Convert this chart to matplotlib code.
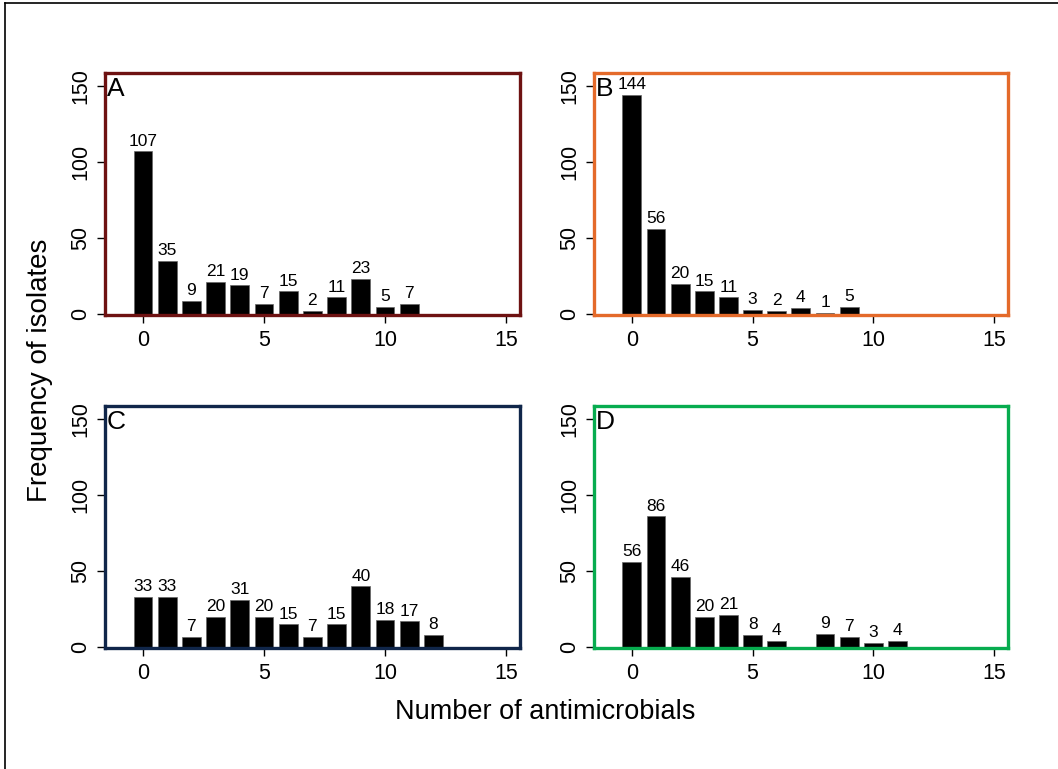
import matplotlib
matplotlib.use("Agg")
import matplotlib.pyplot as plt
from matplotlib.lines import Line2D

plt.rcParams['font.family'] = ['Liberation Sans', 'DejaVu Sans']

# Frequency of isolates by number of antimicrobials resisted, per group
counts_a = [107, 35, 9, 21, 19, 7, 15, 2, 11, 23, 5, 7]
counts_b = [144, 56, 20, 15, 11, 3, 2, 4, 1, 5]
counts_c = [33, 33, 7, 20, 31, 20, 15, 7, 15, 40, 18, 17, 8]
counts_d = [56, 86, 46, 20, 21, 8, 4, 0, 9, 7, 3, 4]

panel_letters = ["A", "B", "C", "D"]
frame_colors = ["#6e1212", "#e46a2a", "#10264a", "#07ac4f"]
x_ticks = [0, 5, 10, 15]
y_ticks = [0, 50, 100, 150]

W, H = 1058, 769
fig = plt.figure(figsize=(W / 100, H / 100), dpi=100)

# axes rectangles in pixels: (left, top, right, bottom)
boxes = [(105, 73, 520, 315), (594, 73, 1008, 315),
         (105, 406, 520, 648), (594, 406, 1008, 648)]

all_counts = [counts_a, counts_b, counts_c, counts_d]

for counts, letter, color, (l, t, r, b) in zip(all_counts, panel_letters, frame_colors, boxes):
    ax = fig.add_axes([l / W, 1 - b / H, (r - l) / W, (b - t) / H])
    xs = list(range(len(counts)))
    ax.bar(xs, counts, width=0.78, color="black", edgecolor="#666666", linewidth=0.5)
    for x, v in zip(xs, counts):
        if v > 0:
            ax.annotate(str(v), (x, v), xytext=(0, 2), textcoords="offset points",
                        ha="center", va="bottom", fontsize=12.5)
    ax.set_xlim(-1.57, 15.58)
    ax.set_ylim(-0.5, 158.5)
    ax.set_xticks(x_ticks)
    ax.set_yticks(y_ticks)
    ax.tick_params(axis="both", labelsize=15.5, length=6, width=1, color="black", pad=5)
    ax.tick_params(axis="y", labelrotation=90, pad=4)
    for lab in ax.get_yticklabels():
        lab.set_va("center")
    for sp in ax.spines.values():
        sp.set_color(color)
        sp.set_linewidth(2.4)
    ax.text(0.005, 0.985, letter, transform=ax.transAxes, ha="left", va="top", fontsize=19)

fig.text(40 / W, 1 - 370 / H, "Frequency of isolates", rotation=90,
         ha="center", va="center", fontsize=20)
fig.text(545 / W, 1 - 712 / H, "Number of antimicrobials",
         ha="center", va="center", fontsize=19.5)

# outer frame lines along the left and top edges
fig.add_artist(Line2D([5 / W, 5 / W], [0, 1 - 3 / H], transform=fig.transFigure,
                      color="black", linewidth=1.2))
fig.add_artist(Line2D([5 / W, 1], [1 - 3 / H, 1 - 3 / H], transform=fig.transFigure,
                      color="black", linewidth=1.2))

fig.savefig("out.png", dpi=100)
